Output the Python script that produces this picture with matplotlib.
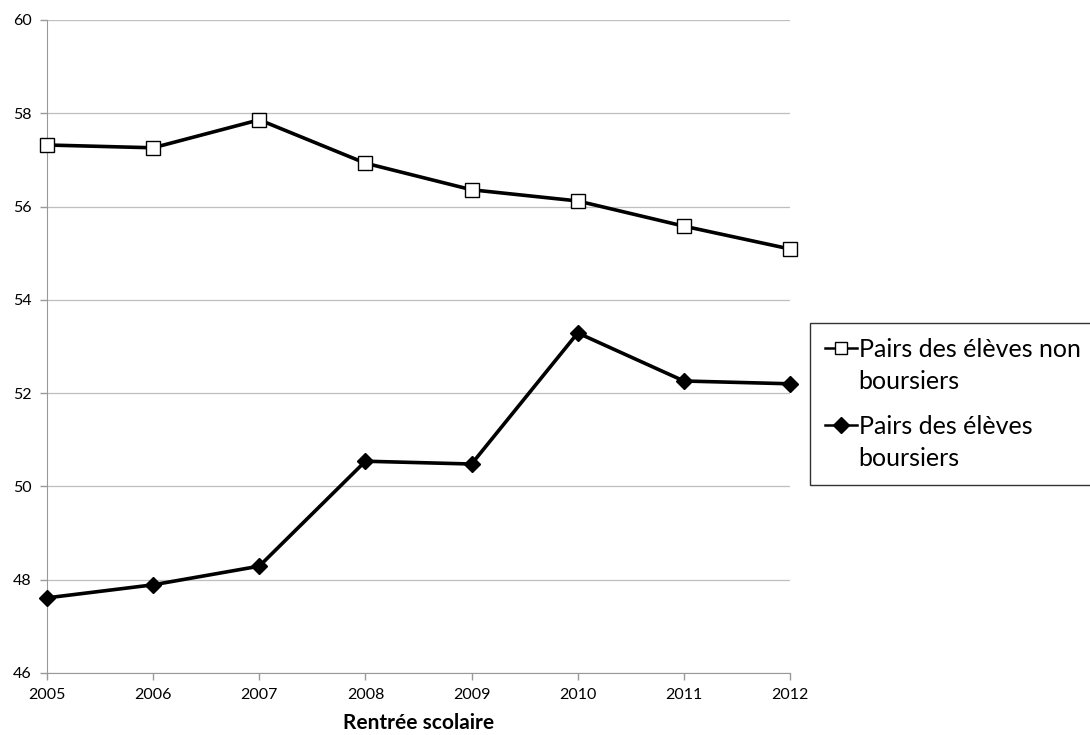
import matplotlib
matplotlib.use("Agg")
import matplotlib.pyplot as plt
import numpy as np
from matplotlib.legend_handler import HandlerLine2D

plt.rcParams['font.family'] = ['Lato', 'DejaVu Sans']

years = [2005, 2006, 2007, 2008, 2009, 2010, 2011, 2012]
non_boursiers = [57.32, 57.26, 57.86, 56.93, 56.36, 56.12, 55.58, 55.09]
boursiers = [47.61, 47.89, 48.29, 50.54, 50.48, 53.29, 52.26, 52.20]
label_non = "Pairs des élèves non\nboursiers"
label_bours = "Pairs des élèves\nboursiers"
yticks = [46, 48, 50, 52, 54, 56, 58, 60]


class FirstLineHandler(HandlerLine2D):
    def create_artists(self, legend, orig_handle, xdescent, ydescent, width,
                       height, fontsize, trans):
        arts = super().create_artists(legend, orig_handle, xdescent, ydescent,
                                      width, height, fontsize, trans)
        for a in arts:
            a.set_ydata(np.asarray(a.get_ydata(), dtype=float) + 0.72 * fontsize)
        return arts


fig = plt.figure(figsize=(10.9, 7.35), dpi=100)
ax = fig.add_axes([0.0431, 0.0844, 0.6817, 0.8884])

l1, = ax.plot(years, non_boursiers, color='black', lw=2.6, marker='s', ms=10,
              mfc='white', mec='black', mew=1.0, label=label_non, zorder=3, clip_on=False)
l2, = ax.plot(years, boursiers, color='black', lw=2.6, marker='D', ms=8.5,
              mfc='black', mec='black', label=label_bours, zorder=3, clip_on=False)

ax.set_xlim(2005, 2012)
ax.set_ylim(46, 60)
ax.set_yticks(yticks)
ax.set_xticks(years)
ax.grid(axis='y', color='#bfbfbf', lw=0.9)
ax.set_axisbelow(True)
for s in ['top', 'right']:
    ax.spines[s].set_visible(False)
for s in ['left', 'bottom']:
    ax.spines[s].set_color('#999999')
ax.tick_params(direction='out', length=5, color='#999999', labelsize=11.5, width=1)
ax.tick_params(axis='y', pad=6)
ax.tick_params(axis='x', pad=6)
ax.set_xlabel("Rentrée scolaire", fontsize=15, fontweight='bold', labelpad=8)

leg = fig.legend(handles=[l1, l2], loc='upper left', bbox_to_anchor=(0.743, 0.5605),
                 fontsize=18, frameon=True, fancybox=False, edgecolor='black',
                 handlelength=1.3, handletextpad=0.05, borderpad=0.6,
                 labelspacing=0.9, borderaxespad=0,
                 handler_map={l1: FirstLineHandler(), l2: FirstLineHandler()})
leg.get_frame().set_linewidth(1.0)
for t in leg.get_texts():
    t.set_linespacing(1.45)
for h in leg.legend_handles:
    h.set_linewidth(1.8)
    h.set_markersize(8.5)

fig.savefig("out.png", dpi=100)
